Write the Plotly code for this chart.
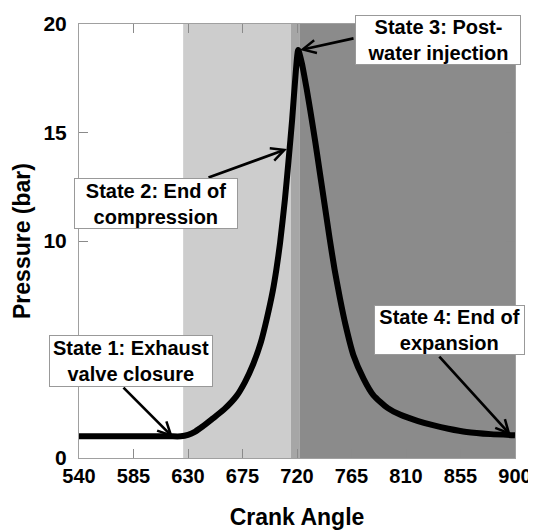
import plotly.graph_objects as go

# ---- data ----
crank_angle = [540, 560, 580, 600, 615, 624, 630, 636, 642, 650, 660, 670, 677, 684, 690, 695,
               700, 703, 706, 710, 713, 716, 719, 721, 724, 728, 731, 735, 739, 743, 747,
               751, 755.5, 760, 766.5, 775, 783, 795, 805, 820, 833, 845, 860, 880, 900]
pressure = [1.0, 1.0, 1.0, 1.0, 1.0, 1.0, 1.07, 1.22, 1.45, 1.8, 2.25, 2.85, 3.5, 4.35, 5.3, 6.4,
            7.7, 8.7, 9.9, 11.9, 13.7, 15.6, 17.8, 18.8, 18.2, 17.0, 16.0, 14.6, 13.1, 11.6, 10.1,
            8.7, 7.35, 6.15, 4.75, 3.65, 2.9, 2.3, 2.0, 1.7, 1.5, 1.35, 1.2, 1.1, 1.05]

x_ticks = [540, 585, 630, 675, 720, 765, 810, 855, 900]
y_ticks = [0, 5, 10, 15, 20]
y_tick_labels = ["0", "", "10", "15", "20"]   # the 5 label is hidden behind a box

# shaded phases: (start, end, colour)
phase_start = [626, 715, 722]
phase_end = [715, 722, 900]
phase_color = ["#cdcdcd", "#a6a6a6", "#8b8b8b"]

# annotation boxes: label, centre (x, y)
box_text = ["State 1: Exhaust<br>valve closure",
            "State 2: End of<br>compression",
            "State 3: Post-<br>water injection",
            "State 4: End of<br>expansion"]
box_x = [582.9, 603.6, 836.4, 845.9]
box_y = [4.46, 11.72, 19.26, 5.89]
box_w = [162, 162, 164, 149]
box_h = [50, 49, 48, 48]

# arrows: tail -> tip
arrow_tail_x = [575.5, 645.7, 767.9, 836.4]
arrow_tail_y = [3.31, 12.9, 19.35, 4.74]
arrow_tip_x = [617.6, 711.7, 722.5, 896.5]
arrow_tip_y = [0.955, 14.24, 18.8, 1.05]

FONT = "Liberation Sans, Arial, sans-serif"

fig = go.Figure()

for s, e, c in zip(phase_start, phase_end, phase_color):
    fig.add_shape(type="rect", xref="x", yref="y", x0=s, x1=e, y0=0, y1=20,
                  fillcolor=c, line=dict(width=0), layer="below")

fig.add_trace(go.Scatter(x=crank_angle, y=pressure, mode="lines",
                         line=dict(color="black", width=6, shape="spline", smoothing=0.6),
                         showlegend=False, cliponaxis=False))

for tx, ty, hx, hy in zip(arrow_tail_x, arrow_tail_y, arrow_tip_x, arrow_tip_y):
    fig.add_annotation(x=hx, y=hy, ax=tx, ay=ty, xref="x", yref="y",
                       axref="x", ayref="y", text="", showarrow=True,
                       arrowhead=5, arrowsize=0.95, arrowwidth=2.7, arrowcolor="black")

for t, bx, by, w, h in zip(box_text, box_x, box_y, box_w, box_h):
    fig.add_annotation(x=bx, y=by, xref="x", yref="y", text=t, showarrow=False,
                       xanchor="center", yanchor="middle", width=w, height=h,
                       bgcolor="white", bordercolor="#999999", borderwidth=1, borderpad=0,
                       font=dict(family=FONT, size=20, color="black", weight="bold"))

axis_common = dict(showline=True, linecolor="#a0a0a0", linewidth=1, mirror="ticks",
                   ticks="inside", ticklen=9, tickcolor="#8a8a8a", tickwidth=1,
                   showgrid=False, zeroline=False)

fig.update_xaxes(range=[540, 900], tickvals=x_ticks, ticktext=[str(v) for v in x_ticks],
                 ticklabelstandoff=0,
                 tickfont=dict(family=FONT, size=20, color="black", weight="bold"),
                 title=dict(text="Crank Angle", standoff=22,
                            font=dict(family=FONT, size=23, color="black", weight="bold")),
                 **axis_common)
fig.update_yaxes(range=[0, 20], tickvals=y_ticks, ticktext=y_tick_labels,
                 ticklabelstandoff=7,
                 tickfont=dict(family=FONT, size=21, color="black", weight="bold"),
                 title=dict(text="Pressure (bar)", standoff=6,
                            font=dict(family=FONT, size=23, color="black", weight="bold")),
                 **axis_common)
# the page adds an 8 px body margin, so the figure is 8 px smaller and margins shifted
fig.update_layout(width=528, height=522,
                  margin=dict(l=71, r=21, t=16, b=72, autoexpand=False),
                  plot_bgcolor="white", paper_bgcolor="white",
                  font=dict(family=FONT, size=20, color="black"))

fig.write_html("out.html")
